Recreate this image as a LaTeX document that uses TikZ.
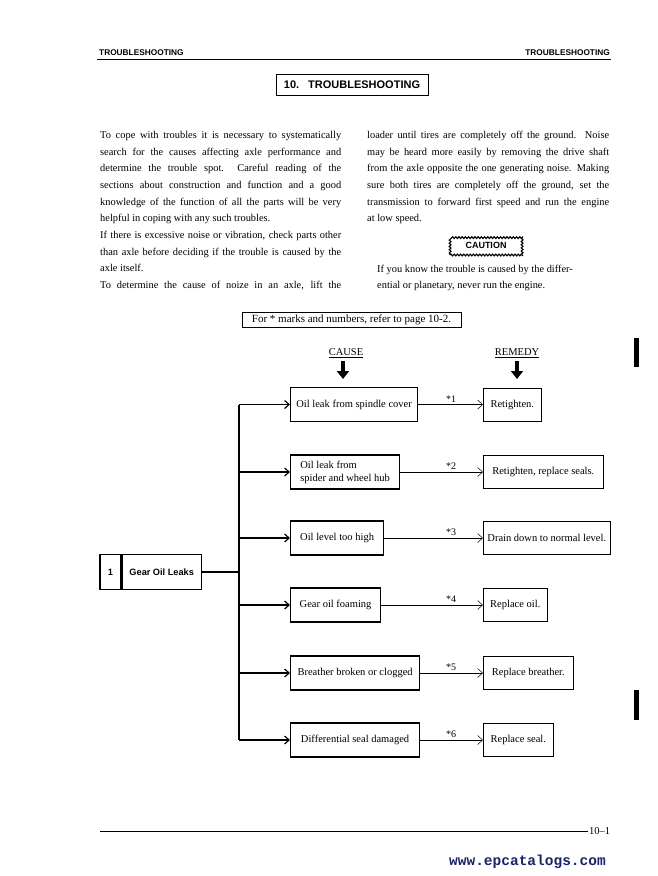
\documentclass[tikz,border=0pt]{standalone}
\usepackage{fontspec}
\setmainfont{Liberation Serif}
\setsansfont{Liberation Sans}
\setmonofont{Liberation Mono}
\usetikzlibrary{arrows.meta,decorations.pathmorphing}
\definecolor{sitelink}{RGB}{24,36,104}
% one justified line of the page text
\newcommand{\jline}[2]{\makebox[#1pt][s]{#2}}
\begin{document}
\begin{tikzpicture}[x=1pt, y=-1pt,
    every node/.style={inner sep=0pt},
    headtext/.style={font=\sffamily\bfseries\fontsize{8.3}{10}\selectfont},
    bodyline/.style={anchor=base west, font=\fontsize{10.4}{12}\selectfont},
    causebox/.style={draw, line width=1.2pt, anchor=west, minimum height=34pt,
      align=left, font=\fontsize{10.5}{13}\selectfont},
    remedybox/.style={draw, line width=0.6pt, anchor=west, minimum height=33pt,
      font=\fontsize{10.5}{13}\selectfont},
    leakbox/.style={draw, line width=1.2pt, minimum height=35pt,
      font=\sffamily\bfseries\fontsize{9.2}{11}\selectfont},
    feed/.style={line width=1.2pt, -{Straight Barb[length=4.5pt,width=8pt]}},
    fix/.style={line width=0.5pt, -{Straight Barb[length=5pt,width=9pt]}},
    bigdown/.style={line width=4pt, -{Triangle[length=8pt,width=12pt]}}]
  \fill[white] (0,0) rectangle (657,876);
  \useasboundingbox (0,0) rectangle (657,876);
  % page head
  \node[headtext, anchor=base west] (hl) at (99,55.5) {TROUBLESHOOTING};
  \node[headtext, anchor=base east] (hr) at (610,55.5) {TROUBLESHOOTING};
  \draw[line width=1.4pt] (97,59.5) -- (611,59.5);
  \node[draw, line width=0.7pt, minimum width=152pt, minimum height=21pt,
    font=\sffamily\bfseries\fontsize{11}{13}\selectfont] (title) at (352,85)
    {10.\hspace{9pt}TROUBLESHOOTING};
  % text columns
  \foreach \txt [count=\i from 0] in {
      {\jline{241}{To cope with troubles it is necessary to systematically}},
      {\jline{241}{search for the causes affecting axle performance and}},
      {\jline{241}{determine the trouble spot.\ \ Careful reading of the}},
      {\jline{241}{sections about construction and function and a good}},
      {\jline{241}{knowledge of the function of all the parts will be very}},
      {helpful in coping with any such troubles.},
      {\jline{241}{If there is excessive noise or vibration, check parts other}},
      {\jline{241}{than axle before deciding if the trouble is caused by the}},
      {axle itself.},
      {\jline{241}{To determine the cause of noize in an axle, lift the}}}
    \node[bodyline] (lt\i) at (100,{138.5+16.67*\i}) {\txt};
  \foreach \txt [count=\i from 0] in {
      {\jline{242}{loader until tires are completely off the ground.\ \ Noise}},
      {\jline{242}{may be heard more easily by removing the drive shaft}},
      {\jline{242}{from the axle opposite the one generating noise. Making}},
      {\jline{242}{sure both tires are completely off the ground, set the}},
      {\jline{242}{transmission to forward first speed and run the engine}},
      {at low speed.}}
    \node[bodyline] (rt\i) at (367,{138.5+16.67*\i}) {\txt};
  \node[draw, line width=1.1pt, decorate,
    decoration={snake, amplitude=0.9pt, segment length=3.2pt},
    minimum width=72pt, minimum height=19pt,
    font=\sffamily\bfseries\fontsize{9}{10}\selectfont] (caution) at (486,245.5) {CAUTION};
  \node[bodyline] (cau1) at (377,272) {If you know the trouble is caused by the differ-};
  \node[bodyline] (cau2) at (377,288.7) {ential or planetary, never run the engine.};
  \node[draw, line width=0.6pt, minimum width=219pt, minimum height=15pt,
    font=\fontsize{11}{12}\selectfont] (note) at (351.5,319.5)
    {For * marks and numbers, refer to page 10-2.};
  % chart heads
  \node[font=\fontsize{10.5}{12}\selectfont] (cause) at (346,353) {\underline{CAUSE}};
  \node[font=\fontsize{10.5}{12}\selectfont] (remedy) at (517,353) {\underline{REMEDY}};
  \coordinate (causetip) at (343,379);
  \coordinate (remedytip) at (517,379);
  \draw[bigdown] (343,361) -- (causetip);
  \draw[bigdown] (517,361) -- (remedytip);
  % chart rows
  \foreach \k/\y/\cw/\ctxt/\rw/\rtxt in {
      1/404.5/127/{Oil leak from spindle cover}/58/{Retighten.},
      2/472/109/{Oil leak from\\spider and wheel hub}/120/{Retighten, replace seals.},
      3/538/93/{Oil level too high}/127/{Drain down to normal level.},
      4/605/90/{Gear oil foaming}/64/{Replace oil.},
      5/673/129/{Breather broken or clogged}/90/{Replace breather.},
      6/740/129/{Differential seal damaged}/70/{Replace seal.}} {
    \node[causebox, minimum width=\cw*1pt] (c\k) at (290,\y) {\ctxt};
    \node[remedybox, minimum width=\rw*1pt] (r\k) at (483,\y) {\rtxt};
    \node[anchor=base, font=\fontsize{10}{11}\selectfont] (s\k) at (451,\y-2.5) {*\k};
    \coordinate (t\k) at (239,\y);
    \draw[fix] (c\k) -- (r\k);
    \draw[feed] (t\k) -- (c\k);
  }
  \draw[line width=1.2pt] (t1) -- (t6);
  \node[leakbox, minimum width=21pt] (leaknum) at (110.5,572) {1};
  \node[leakbox, minimum width=79pt, anchor=west] (leaks) at (leaknum.east) {Gear Oil Leaks};
  \draw[line width=1.2pt] (leaks) -- (leaks -| t1);
  % page foot
  \draw[line width=0.6pt] (100,831) -- (588,831);
  \node[anchor=base west, font=\fontsize{10.5}{12}\selectfont] (pageno) at (589,834.5) {10--1};
  \node[anchor=base east, text=sitelink, font=\ttfamily\bfseries\fontsize{14.5}{16}\selectfont]
    (site) at (606,865) {www.epcatalogs.com};
  % scan marks at the right edge
  \fill (634,338) rectangle (639,367);
  \fill (634,690) rectangle (639,720);
\end{tikzpicture}
\end{document}
